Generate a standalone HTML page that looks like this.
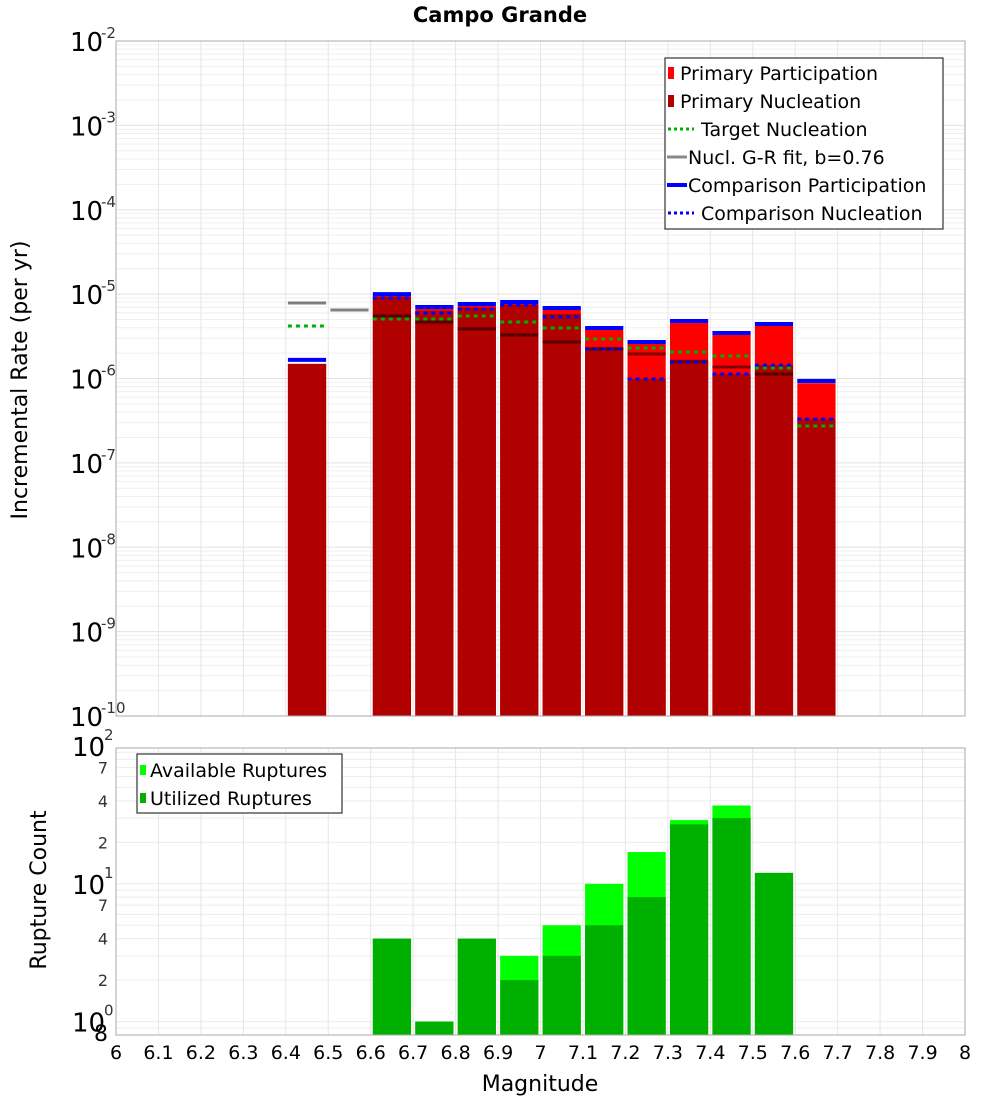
<!DOCTYPE html>
<html><head><meta charset="utf-8"><style>
body{margin:0;background:#fff;}
svg{display:block;font-family:"DejaVu Sans","Liberation Sans",sans-serif;}
</style></head><body>
<svg id="chart" width="1000" height="1100" viewBox="0 0 1000 1100" xmlns="http://www.w3.org/2000/svg">
<text x="500" y="22" text-anchor="middle" font-size="21" font-weight="bold">Campo Grande</text>
<text transform="translate(27,380) rotate(-90)" text-anchor="middle" font-size="22">Incremental Rate (per yr)</text>
<text transform="translate(46,890) rotate(-90)" text-anchor="middle" font-size="22">Rupture Count</text>
<text x="540" y="1091" text-anchor="middle" font-size="22">Magnitude</text>
<g id="topGrid"></g><g id="botGrid"></g>
<g id="topMarks"></g><g id="botMarks"></g>
<rect x="116" y="41" width="849" height="675" fill="none" stroke="#aaa" stroke-width="1"/>
<rect x="116" y="748" width="849" height="287" fill="none" stroke="#aaa" stroke-width="1"/>
<g id="axes"></g>
<g>
<rect x="665" y="58" width="278" height="171" fill="#fff" stroke="#333" stroke-width="1.2"/>
<rect x="668" y="67" width="6" height="12" fill="#ff0000"/><text x="680" y="80" font-size="19">Primary Participation</text>
<rect x="668" y="95" width="6" height="12" fill="#b00000"/><text x="680" y="108" font-size="19">Primary Nucleation</text>
<line x1="668" y1="129" x2="694" y2="129" stroke="#00b000" stroke-width="3" stroke-dasharray="3,3"/><text x="701" y="136" font-size="19">Target Nucleation</text>
<line x1="667" y1="157" x2="687" y2="157" stroke="#888" stroke-width="3"/><text x="688" y="164" font-size="19">Nucl. G-R fit, b=0.76</text>
<line x1="667" y1="185" x2="687" y2="185" stroke="#0000ff" stroke-width="4"/><text x="688" y="192" font-size="19">Comparison Participation</text>
<line x1="668" y1="213" x2="694" y2="213" stroke="#0000ff" stroke-width="3" stroke-dasharray="3,3"/><text x="701" y="220" font-size="19">Comparison Nucleation</text>
</g>
<g>
<rect x="137" y="754" width="205" height="59" fill="#fff" stroke="#333" stroke-width="1.2"/>
<rect x="140" y="765" width="6" height="10" fill="#00ff00"/><text x="150" y="777" font-size="19">Available Ruptures</text>
<rect x="140" y="793" width="6" height="10" fill="#00b000"/><text x="150" y="805" font-size="19">Utilized Ruptures</text>
</g>
</svg>
<script>
const mags=[6.45,6.55,6.65,6.75,6.85,6.95,7.05,7.15,7.25,7.35,7.45,7.55,7.65];
const primaryParticipation=[1.49e-6,null,9.5e-6,6.67e-6,7.25e-6,7.64e-6,6.49e-6,3.76e-6,2.57e-6,4.55e-6,3.28e-6,4.19e-6,8.8e-7];
const primaryNucleation=[1.49e-6,null,9.2e-6,6.3e-6,6.9e-6,7.5e-6,5.8e-6,2.36e-6,9.9e-7,1.57e-6,1.13e-6,1.44e-6,3.3e-7];
const targetNucleation=[4.19e-6,null,5.07e-6,5.07e-6,5.5e-6,4.68e-6,3.97e-6,2.94e-6,2.30e-6,2.06e-6,1.85e-6,1.33e-6,2.74e-7];
const grFit=[7.85e-6,6.49e-6,5.5e-6,4.68e-6,3.87e-6,3.28e-6,2.71e-6,2.24e-6,1.95e-6,1.6e-6,1.37e-6,1.13e-6,9.5e-7];
const compParticipation=[1.66e-6,null,1.0e-5,7.03e-6,7.64e-6,8.07e-6,6.85e-6,3.97e-6,2.71e-6,4.80e-6,3.46e-6,4.42e-6,9.33e-7];
const compNucleation=[null,null,9.0e-6,5.97e-6,6.67e-6,7.43e-6,5.36e-6,2.24e-6,9.87e-7,1.57e-6,1.13e-6,1.44e-6,3.31e-7];
const countMags=[6.65,6.75,6.85,6.95,7.05,7.15,7.25,7.35,7.45,7.55];
const availableRuptures=[4,1,4,3,5,10,17,29,37,12];
const utilizedRuptures=[4,1,4,2,3,5,8,27,30,12];
const xTickLabels=["6","6.1","6.2","6.3","6.4","6.5","6.6","6.7","6.8","6.9","7","7.1","7.2","7.3","7.4","7.5","7.6","7.7","7.8","7.9","8"];
const topExps=[-2,-3,-4,-5,-6,-7,-8,-9,-10];
const botMinorLabels=[2,4,7,20,40,70];

const NS="http://www.w3.org/2000/svg";
const X=m=>116+(m-6)*424.5;
const YT=v=>41+(-2-Math.log10(v))*84.375;
const YB=v=>746+(2-Math.log10(v))*137.8;
function mk(parent,tag,attrs){const e=document.createElementNS(NS,tag);for(const k in attrs)e.setAttribute(k,attrs[k]);document.getElementById(parent).appendChild(e);return e;}

// grids
for(let d=-10;d<-2;d++){for(let k=1;k<10;k++){const y=YT(k*Math.pow(10,d));const g=mk('topGrid','line',{x1:116,x2:965,y1:y,y2:y,stroke:k==1?'#e2e2e2':'#efefef','stroke-width':1});

}}
for(let d=-1;d<2;d++){for(let k=1;k<10;k++){const v=k*Math.pow(10,d);if(v<0.8||v>100)continue;const y=YB(v);const g=mk('botGrid','line',{x1:116,x2:965,y1:y,y2:y,stroke:'#ececec','stroke-width':1});

}}
xTickLabels.forEach((t,i)=>{const x=X(6+i*0.1);
const a=mk('topGrid','line',{x1:x,x2:x,y1:41,y2:716,stroke:'#e6e6e6','stroke-width':1});


const b=mk('botGrid','line',{x1:x,x2:x,y1:748,y2:1035,stroke:'#e6e6e6','stroke-width':1});


const l=mk('axes','text',{x:x,y:1059,'text-anchor':'middle','font-size':19});l.textContent=t;

});

// top y labels
topExps.forEach(e=>{const y=YT(Math.pow(10,e));
const t=mk('axes','text',{x:70,y:y+10,'font-size':26});t.textContent='10';


const s=mk('axes','text',{x:101,y:y-3,'font-size':15,fill:'#333'});s.textContent=String(e);

});
[[100,'2'],[10,'1'],[1,'0']].forEach(([v,e])=>{const y=YB(v);
const t=mk('axes','text',{x:72,y:y+10,'font-size':26});t.textContent='10';


const s=mk('axes','text',{x:104,y:y-6,'font-size':15,fill:'#333'});s.textContent=e;

});
botMinorLabels.forEach(v=>{const y=YB(v);const t=mk('axes','text',{x:108,y:y+6,'font-size':16,'text-anchor':'end',fill:'#333'});t.textContent=String(v).charAt(0);

});
{const t=mk('axes','text',{x:108,y:YB(0.8)+6,'font-size':22,'text-anchor':'end'});t.textContent='8';

}

// top marks
const hw=0.045*424.5;
function bar(parent,m,v,base,fill,name){if(v==null)return;const x=X(m)-hw,y=v;const r=mk(parent,'rect',{x:x,y:y,width:2*hw,height:base-y,fill:fill});

}
function hline(m,v,stroke,w,dash,name,blend){if(v==null)return;const y=YT(v);const a={x1:X(m)-hw,x2:X(m)+hw,y1:y,y2:y,stroke:stroke,'stroke-width':w};if(dash)a['stroke-dasharray']=dash;if(blend)a.style='mix-blend-mode:multiply';const l=mk('topMarks','line',a);

}
mags.forEach((m,i)=>{
 if(primaryParticipation[i]!=null)bar('topMarks',m,YT(primaryParticipation[i]),716,'#ff0000','primary-participation-bar');
 if(primaryNucleation[i]!=null)bar('topMarks',m,YT(primaryNucleation[i]),716,'#b00000','primary-nucleation-bar');
});
mags.forEach((m,i)=>{
 hline(m,grFit[i],'#808080',3,null,'gr-fit-line',true);
 hline(m,targetNucleation[i],'#00b000',3,'4,4','target-nucleation-line');
 hline(m,compNucleation[i],'#0000ff',3,'4,4','comparison-nucleation-line');
 hline(m,compParticipation[i],'#0000ff',4,null,'comparison-participation-line');
});
// bottom marks
countMags.forEach((m,i)=>{
 bar('botMarks',m,YB(availableRuptures[i]),1035,'#00ff00','available-ruptures-bar');
 bar('botMarks',m,YB(utilizedRuptures[i]),1035,'#00b000','utilized-ruptures-bar');
});
</script>
</body></html>
